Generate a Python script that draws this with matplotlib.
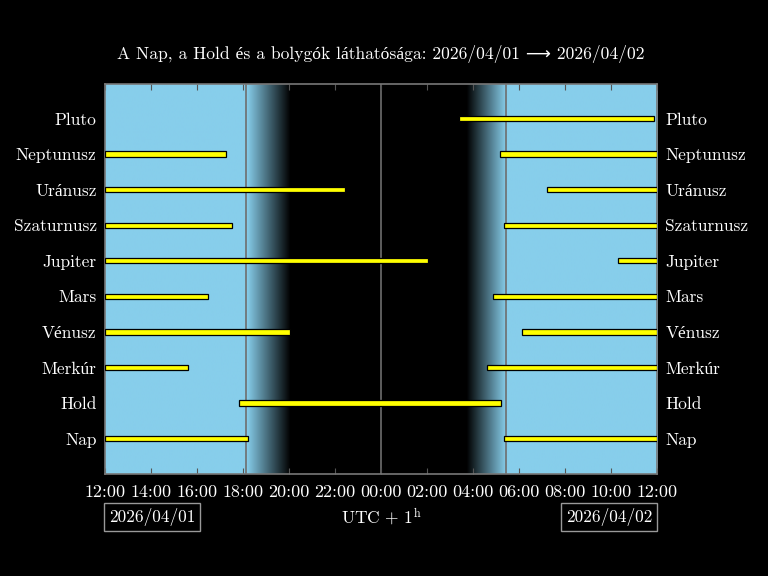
import matplotlib
matplotlib.use("Agg")
import matplotlib.pyplot as plt
import numpy as np
from matplotlib.colors import LinearSegmentedColormap

# hours counted from 12:00 on 2026/04/01
bodies = ["Nap", "Hold", "Merkúr", "Vénusz", "Mars", "Jupiter",
          "Szaturnusz", "Uránusz", "Neptunusz", "Pluto"]
visible = [
    [(0, 6.2), (17.35, 24)],      # Nap
    [(5.84, 17.2)],               # Hold
    [(0, 3.6), (16.62, 24)],      # Merkúr
    [(0, 8.04), (18.14, 24)],     # Vénusz
    [(0, 4.48), (16.87, 24)],     # Mars
    [(0, 14.04), (22.3, 24)],     # Jupiter
    [(0, 5.52), (17.35, 24)],     # Szaturnusz
    [(0, 10.43), (19.23, 24)],    # Uránusz
    [(0, 5.26), (17.19, 24)],     # Neptunusz
    [(15.4, 23.88)],              # Pluto
]
sunset = 6.15
dusk_end = 8.05
dawn_start = 15.7
sunrise = 17.42
midnight = 12.0
tick_hours = list(range(0, 25, 2))
tick_labels = ["12:00", "14:00", "16:00", "18:00", "20:00", "22:00", "00:00",
               "02:00", "04:00", "06:00", "08:00", "10:00", "12:00"]
day1 = "2026/04/01"
day2 = "2026/04/02"

plt.rcParams["font.family"] = ["cmr10", "Liberation Serif", "DejaVu Sans"]
plt.rcParams["mathtext.fontset"] = "cm"
plt.rcParams["axes.formatter.use_mathtext"] = True

fig = plt.figure(figsize=(7.68, 5.76), dpi=100, facecolor="black")
ax = fig.add_axes([0.1367, 0.177, 0.7188, 0.677])
ax.set_facecolor("black")

# sky brightness: 1 = day, 0 = night
hx = np.linspace(0, 24, 2000)
light = np.ones_like(hx)
light = np.where(hx > sunset, np.clip(1 - (hx - sunset) / (dusk_end - sunset), 0, 1), light)
light = np.where(hx > dawn_start, np.clip((hx - dawn_start) / (sunrise - dawn_start), 0, 1), light)
sky = LinearSegmentedColormap.from_list("sky", ["black", "#87ceeb"])
ax.imshow(light[np.newaxis, :], cmap=sky, vmin=0, vmax=1, aspect="auto",
          extent=[0, 24, 0, 11], interpolation="bilinear", zorder=0)

for xv in (sunset, midnight, sunrise):
    ax.axvline(xv, color="#6e6e6e", lw=1.2, zorder=1)

for i, spans in enumerate(visible):
    for a, b in spans:
        ax.barh(i + 1, b - a, left=a, height=0.15, color="#ffff00",
                edgecolor="black", linewidth=0.9, zorder=3)

ax.set_xlim(0, 24)
ax.set_ylim(0, 10.97)
ax.set_xticks(tick_hours)
ax.set_xticklabels(tick_labels)
ax.set_yticks(range(1, len(bodies) + 1))
ax.set_yticklabels(bodies)
ax.tick_params(axis="x", direction="in", top=True, length=4, color="#555555",
               labelcolor="white", labelsize=13, pad=8)
ax.tick_params(axis="y", length=0, labelleft=True, labelright=True,
               labelcolor="white", labelsize=12.5, pad=6)
for s in ax.spines.values():
    s.set_color("#777777")
    s.set_linewidth(1.2)

ax.set_title("A Nap, a Hold és a bolygók láthatósága: " + day1 + " \u27f6 " + day2,
             color="white", fontsize=12.6, pad=18)

box = dict(boxstyle="square,pad=0.3", facecolor="black", edgecolor="#999999", lw=1)
ax.text(0.085, -0.11, day1, transform=ax.transAxes, ha="center", va="center",
        color="white", fontsize=12.5, bbox=box)
ax.text(0.913, -0.11, day2, transform=ax.transAxes, ha="center", va="center",
        color="white", fontsize=12.5, bbox=box)
ax.text(0.5, -0.11, r"UTC$\,+\,1^{\mathrm{h}}$", transform=ax.transAxes,
        ha="center", va="center", color="white", fontsize=12.5)

fig.savefig("out.png", dpi=100, facecolor="black")
